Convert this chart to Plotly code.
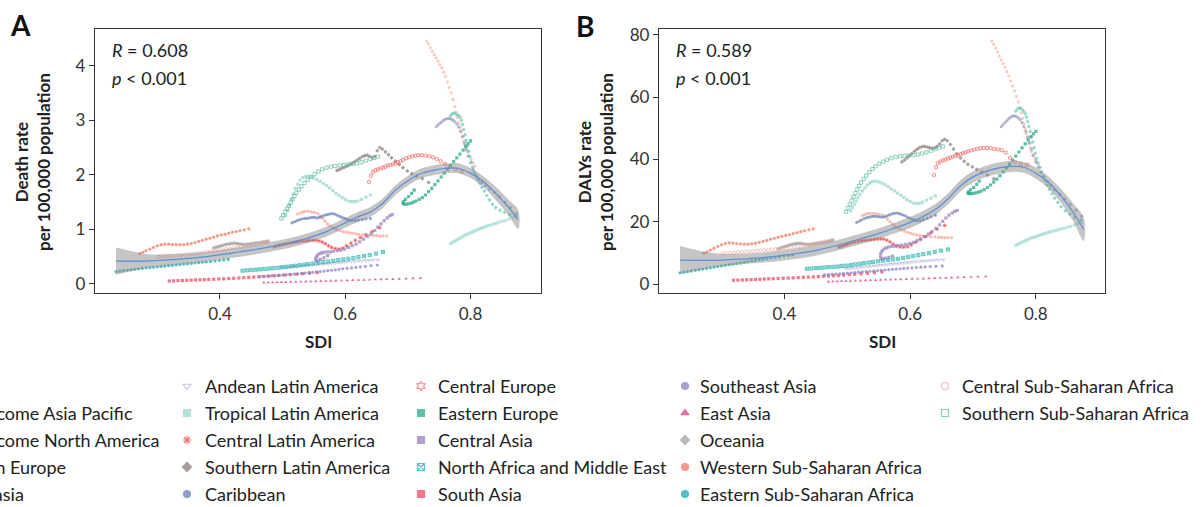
import plotly.graph_objects as go

# ---------------- data (SDI, death rate, DALYs rate per region, 1990-2019) ----------------
sdi_global = [0.524,0.528,0.532,0.536,0.541,0.546,0.551,0.556,0.560,0.564,0.568,0.572,0.576,0.581,0.586,0.591,0.596,0.601,0.606,0.611,0.616,0.621,0.627,0.633,0.639,0.645,0.650,0.655,0.660,0.666]
death_global = [1.28,1.30,1.32,1.33,1.33,1.32,1.31,1.29,1.25,1.20,1.15,1.10,1.06,1.03,1.00,0.98,0.96,0.95,0.94,0.93,0.92,0.91,0.90,0.90,0.89,0.89,0.89,0.88,0.88,0.88]
daly_global = [22.0,22.3,22.6,22.7,22.7,22.6,22.4,22.2,21.6,20.8,20.0,19.2,18.5,17.9,17.4,17.0,16.6,16.3,16.0,15.8,15.6,15.4,15.3,15.2,15.1,15.0,15.0,14.9,14.9,14.9]

sdi_hiap = [0.730,0.733,0.736,0.739,0.742,0.745,0.748,0.751,0.754,0.757,0.760,0.763,0.766,0.769,0.772,0.775,0.777,0.779,0.781,0.783,0.785,0.787,0.789,0.791,0.793,0.795,0.798,0.801,0.804,0.807]
death_hiap = [4.45,4.40,4.33,4.26,4.20,4.14,4.08,4.02,3.96,3.88,3.80,3.70,3.60,3.50,3.38,3.25,3.15,3.05,2.95,2.86,2.78,2.70,2.62,2.55,2.48,2.42,2.35,2.28,2.22,2.16]
daly_hiap = [78.0,77.0,75.8,74.5,73.2,72.0,70.8,69.6,68.2,66.8,65.2,63.6,62.0,60.3,58.5,56.6,54.9,53.2,51.5,49.8,48.2,46.7,45.2,43.8,42.5,41.3,40.2,39.2,38.3,37.5]

sdi_hina = [0.745,0.748,0.751,0.754,0.757,0.760,0.763,0.766,0.769,0.772,0.775,0.778,0.781,0.784,0.787,0.790,0.793,0.796,0.800,0.804,0.808,0.813,0.818,0.824,0.830,0.838,0.846,0.855,0.864,0.873]
death_hina = [2.88,2.91,2.94,2.97,3.00,3.02,3.03,3.03,3.02,3.00,2.97,2.93,2.88,2.80,2.70,2.58,2.46,2.34,2.22,2.10,2.00,1.92,1.86,1.80,1.74,1.68,1.60,1.50,1.40,1.29]
daly_hina = [50.5,51.2,51.9,52.5,53.1,53.6,53.9,54.0,53.8,53.4,52.8,51.8,50.5,49.0,47.2,45.2,43.2,41.2,39.3,37.5,35.9,34.4,33.0,31.6,30.2,28.8,27.3,25.6,23.7,21.8]

sdi_we = [0.768,0.771,0.774,0.777,0.780,0.783,0.785,0.787,0.789,0.791,0.793,0.795,0.797,0.799,0.801,0.803,0.806,0.809,0.812,0.815,0.818,0.822,0.826,0.830,0.835,0.840,0.847,0.854,0.862,0.872]
death_we = [3.08,3.12,3.13,3.11,3.09,3.06,3.00,2.92,2.83,2.73,2.63,2.53,2.43,2.33,2.23,2.14,2.05,1.97,1.90,1.84,1.77,1.70,1.62,1.54,1.46,1.40,1.35,1.31,1.27,1.24]
daly_we = [55.5,56.3,56.6,56.2,55.6,54.8,53.6,52.2,50.6,49.0,47.3,45.6,43.8,42.0,40.3,38.8,37.4,36.0,34.6,33.2,31.8,30.4,29.0,27.6,26.2,24.8,23.5,22.4,21.4,20.6]

sdi_aus = [0.768,0.771,0.774,0.777,0.780,0.783,0.786,0.789,0.792,0.795,0.798,0.801,0.804,0.807,0.810,0.813,0.816,0.819,0.822,0.825,0.829,0.833,0.837,0.841,0.845,0.850,0.855,0.861,0.867,0.873]
death_aus = [0.74,0.76,0.78,0.80,0.82,0.84,0.86,0.88,0.90,0.91,0.93,0.94,0.96,0.97,0.99,1.00,1.02,1.03,1.04,1.06,1.07,1.08,1.10,1.11,1.13,1.15,1.16,1.19,1.22,1.26]
daly_aus = [12.4,12.7,13.0,13.3,13.6,13.9,14.2,14.4,14.7,14.9,15.1,15.3,15.5,15.7,15.9,16.1,16.3,16.5,16.7,16.9,17.1,17.3,17.5,17.7,17.9,18.2,18.5,18.9,19.4,20.0]

sdi_andean = [0.498,0.503,0.508,0.513,0.518,0.523,0.528,0.533,0.538,0.543,0.548,0.553,0.558,0.563,0.568,0.573,0.578,0.583,0.588,0.593,0.598,0.603,0.609,0.615,0.621,0.627,0.633,0.639,0.645,0.652]
death_andean = [0.30,0.30,0.31,0.31,0.32,0.32,0.33,0.33,0.34,0.34,0.35,0.35,0.36,0.36,0.37,0.37,0.38,0.38,0.39,0.39,0.40,0.40,0.41,0.41,0.42,0.42,0.43,0.43,0.44,0.44]
daly_andean = [4.9,5.0,5.1,5.2,5.3,5.4,5.5,5.6,5.7,5.8,5.9,6.0,6.1,6.2,6.3,6.4,6.5,6.6,6.7,6.8,6.9,7.0,7.1,7.2,7.3,7.4,7.5,7.6,7.7,7.8]

sdi_tropical = [0.505,0.508,0.511,0.514,0.517,0.520,0.524,0.528,0.532,0.536,0.540,0.545,0.550,0.555,0.560,0.565,0.570,0.575,0.580,0.585,0.590,0.595,0.600,0.605,0.610,0.615,0.620,0.626,0.633,0.640]
death_tropical = [1.25,1.35,1.45,1.55,1.65,1.75,1.83,1.90,1.95,1.97,1.97,1.96,1.94,1.91,1.88,1.84,1.80,1.76,1.71,1.66,1.62,1.58,1.55,1.52,1.51,1.51,1.52,1.55,1.59,1.63]
daly_tropical = [23.5,24.5,25.5,26.6,27.7,28.8,29.9,30.9,31.8,32.5,32.9,33.0,32.8,32.4,31.9,31.3,30.6,29.9,29.2,28.5,27.8,27.1,26.5,26.0,25.8,25.9,26.3,26.9,27.6,28.3]

sdi_cla = [0.487,0.491,0.495,0.499,0.503,0.508,0.513,0.518,0.523,0.528,0.533,0.538,0.543,0.548,0.553,0.558,0.563,0.568,0.573,0.578,0.584,0.590,0.596,0.602,0.609,0.616,0.624,0.633,0.643,0.655]
death_cla = [0.68,0.70,0.71,0.72,0.73,0.74,0.75,0.76,0.77,0.78,0.79,0.79,0.80,0.80,0.80,0.79,0.77,0.74,0.70,0.67,0.65,0.64,0.66,0.70,0.75,0.80,0.85,0.90,0.96,1.03]
daly_cla = [11.8,12.1,12.4,12.7,13.0,13.3,13.5,13.7,13.9,14.0,14.1,14.2,14.3,14.4,14.5,14.4,14.1,13.5,12.8,12.2,11.9,11.8,12.0,12.6,13.4,14.3,15.3,16.4,17.6,18.8]

sdi_sla = [0.587,0.591,0.595,0.599,0.603,0.607,0.611,0.615,0.619,0.623,0.627,0.631,0.635,0.639,0.643,0.647,0.651,0.655,0.659,0.664,0.669,0.674,0.680,0.686,0.692,0.699,0.706,0.714,0.723,0.733]
death_sla = [2.08,2.10,2.12,2.14,2.16,2.19,2.21,2.24,2.27,2.30,2.33,2.35,2.36,2.34,2.31,2.34,2.44,2.50,2.47,2.42,2.37,2.31,2.25,2.19,2.13,2.07,2.02,1.98,1.93,1.86]
daly_sla = [39.2,39.8,40.5,41.2,41.9,42.6,43.3,43.8,44.1,44.2,44.0,43.8,43.6,43.7,44.2,45.0,46.0,46.5,46.0,44.8,43.3,41.8,40.5,39.4,38.4,37.6,36.8,36.0,35.0,33.8]

sdi_carib = [0.515,0.519,0.523,0.527,0.531,0.535,0.539,0.543,0.547,0.551,0.555,0.559,0.563,0.567,0.571,0.575,0.579,0.583,0.587,0.591,0.595,0.599,0.603,0.607,0.611,0.616,0.621,0.627,0.633,0.640]
death_carib = [1.12,1.14,1.16,1.18,1.19,1.20,1.20,1.21,1.22,1.22,1.21,1.22,1.24,1.26,1.27,1.28,1.29,1.28,1.26,1.24,1.22,1.20,1.18,1.17,1.16,1.16,1.17,1.18,1.19,1.20]
daly_carib = [19.8,20.2,20.6,21.0,21.3,21.5,21.7,21.8,21.7,21.6,21.5,21.6,21.9,22.2,22.5,22.7,22.8,22.6,22.3,22.0,21.6,21.2,20.8,20.5,20.3,20.4,20.7,21.1,21.6,22.1]

sdi_ce = [0.638,0.641,0.644,0.648,0.652,0.656,0.660,0.664,0.668,0.672,0.676,0.680,0.684,0.688,0.692,0.697,0.702,0.707,0.712,0.717,0.722,0.728,0.734,0.740,0.746,0.752,0.759,0.767,0.776,0.786]
death_ce = [1.87,1.98,2.05,2.08,2.10,2.12,2.13,2.15,2.17,2.18,2.19,2.21,2.23,2.25,2.27,2.30,2.32,2.34,2.35,2.36,2.36,2.35,2.34,2.32,2.29,2.25,2.20,2.15,2.10,2.06]
daly_ce = [35.0,37.5,38.8,39.3,39.7,40.0,40.3,40.6,40.9,41.1,41.4,41.7,42.0,42.3,42.6,42.9,43.2,43.4,43.6,43.7,43.7,43.6,43.4,43.2,43.0,42.2,40.5,39.2,38.5,38.3]

sdi_ee = [0.710,0.706,0.701,0.696,0.693,0.692,0.694,0.697,0.701,0.705,0.709,0.713,0.718,0.723,0.728,0.733,0.738,0.743,0.748,0.753,0.758,0.763,0.768,0.773,0.778,0.783,0.788,0.792,0.796,0.800]
death_ee = [1.72,1.66,1.60,1.55,1.51,1.48,1.46,1.46,1.47,1.48,1.50,1.52,1.55,1.58,1.63,1.69,1.75,1.82,1.89,1.96,2.03,2.10,2.17,2.24,2.31,2.38,2.45,2.52,2.57,2.62]
daly_ee = [33.0,32.0,31.0,30.2,29.6,29.2,29.0,29.0,29.1,29.3,29.5,29.8,30.3,31.0,31.8,32.7,33.7,34.8,36.0,37.2,38.5,39.8,41.1,42.4,43.7,45.0,46.2,47.3,48.2,49.0]

sdi_ca = [0.572,0.566,0.560,0.555,0.553,0.553,0.555,0.558,0.562,0.566,0.571,0.576,0.581,0.587,0.593,0.599,0.605,0.611,0.617,0.623,0.629,0.635,0.641,0.647,0.652,0.657,0.662,0.667,0.671,0.675]
death_ca = [0.52,0.48,0.45,0.42,0.44,0.48,0.52,0.55,0.57,0.58,0.59,0.59,0.60,0.61,0.62,0.64,0.67,0.70,0.73,0.77,0.82,0.87,0.92,0.98,1.04,1.10,1.16,1.21,1.25,1.27]
daly_ca = [9.0,8.6,8.3,8.1,8.6,9.6,10.5,11.2,11.6,11.9,12.1,12.2,12.3,12.5,12.7,13.0,13.4,13.9,14.5,15.2,16.0,16.9,17.9,19.0,20.1,21.2,22.1,22.8,23.3,23.6]

sdi_name = [0.436,0.443,0.450,0.457,0.464,0.471,0.478,0.485,0.492,0.499,0.506,0.513,0.520,0.527,0.534,0.541,0.549,0.557,0.565,0.573,0.581,0.589,0.597,0.605,0.613,0.621,0.630,0.639,0.649,0.660]
death_name = [0.245,0.250,0.256,0.262,0.268,0.275,0.282,0.290,0.298,0.306,0.315,0.324,0.334,0.344,0.354,0.365,0.376,0.388,0.400,0.412,0.424,0.437,0.450,0.463,0.477,0.492,0.510,0.530,0.555,0.585]
daly_name = [4.9,5.0,5.1,5.2,5.3,5.4,5.5,5.6,5.8,5.9,6.1,6.3,6.5,6.7,6.9,7.1,7.3,7.5,7.7,7.9,8.1,8.4,8.7,9.0,9.3,9.6,9.9,10.3,10.7,11.1]

sdi_sa = [0.319,0.326,0.333,0.340,0.347,0.354,0.361,0.368,0.375,0.382,0.390,0.398,0.406,0.414,0.422,0.430,0.438,0.446,0.454,0.462,0.470,0.478,0.486,0.494,0.503,0.512,0.522,0.532,0.543,0.555]
death_sa = [0.055,0.058,0.061,0.064,0.067,0.070,0.073,0.076,0.079,0.083,0.087,0.091,0.095,0.100,0.105,0.110,0.115,0.120,0.126,0.132,0.138,0.144,0.150,0.157,0.164,0.171,0.179,0.188,0.198,0.210]
daly_sa = [1.20,1.25,1.30,1.35,1.40,1.46,1.52,1.58,1.64,1.70,1.77,1.84,1.91,1.98,2.06,2.14,2.22,2.30,2.39,2.48,2.57,2.67,2.77,2.88,3.00,3.13,3.28,3.45,3.65,3.90]

sdi_sea = [0.464,0.470,0.476,0.482,0.488,0.494,0.500,0.506,0.512,0.518,0.524,0.530,0.536,0.542,0.548,0.554,0.560,0.566,0.572,0.578,0.584,0.590,0.596,0.603,0.610,0.617,0.624,0.632,0.641,0.651]
death_sea = [0.135,0.140,0.145,0.150,0.155,0.160,0.165,0.170,0.176,0.182,0.188,0.194,0.200,0.207,0.214,0.221,0.228,0.236,0.244,0.252,0.260,0.268,0.277,0.286,0.295,0.304,0.313,0.323,0.335,0.348]
daly_sea = [2.9,3.0,3.1,3.2,3.3,3.4,3.5,3.6,3.7,3.8,3.9,4.0,4.1,4.2,4.3,4.4,4.5,4.6,4.7,4.8,4.9,5.0,5.1,5.2,5.3,5.4,5.5,5.6,5.7,5.8]

sdi_ea = [0.470,0.477,0.484,0.491,0.498,0.505,0.513,0.521,0.529,0.537,0.545,0.553,0.561,0.569,0.577,0.585,0.594,0.603,0.612,0.621,0.630,0.639,0.648,0.657,0.666,0.676,0.686,0.697,0.708,0.720]
death_ea = [0.025,0.027,0.029,0.031,0.033,0.035,0.037,0.039,0.041,0.043,0.045,0.048,0.051,0.054,0.057,0.060,0.063,0.066,0.069,0.072,0.075,0.078,0.081,0.084,0.087,0.090,0.094,0.098,0.103,0.108]
daly_ea = [0.75,0.80,0.85,0.90,0.95,1.00,1.05,1.10,1.15,1.20,1.25,1.30,1.35,1.40,1.45,1.50,1.56,1.62,1.68,1.74,1.80,1.86,1.92,1.98,2.04,2.10,2.17,2.24,2.31,2.40]

sdi_oce = [0.390,0.393,0.396,0.399,0.402,0.405,0.408,0.411,0.414,0.417,0.420,0.423,0.426,0.429,0.432,0.435,0.438,0.441,0.444,0.447,0.450,0.453,0.456,0.459,0.462,0.465,0.468,0.471,0.474,0.477]
death_oce = [0.66,0.67,0.68,0.69,0.70,0.71,0.72,0.73,0.73,0.74,0.74,0.75,0.74,0.74,0.73,0.73,0.72,0.72,0.73,0.73,0.74,0.74,0.75,0.75,0.76,0.76,0.77,0.77,0.78,0.78]
daly_oce = [11.3,11.5,11.7,11.9,12.1,12.3,12.5,12.7,12.8,12.9,13.0,13.1,13.0,12.9,12.8,12.8,12.7,12.7,12.8,12.9,13.0,13.1,13.2,13.3,13.4,13.5,13.6,13.7,13.9,14.1]

sdi_wssa = [0.272,0.277,0.282,0.288,0.294,0.300,0.306,0.312,0.318,0.324,0.330,0.336,0.342,0.348,0.354,0.360,0.366,0.372,0.378,0.384,0.390,0.396,0.402,0.408,0.414,0.420,0.426,0.432,0.439,0.446]
death_wssa = [0.56,0.58,0.61,0.64,0.67,0.70,0.72,0.73,0.73,0.72,0.72,0.72,0.72,0.73,0.74,0.76,0.78,0.80,0.82,0.84,0.86,0.88,0.90,0.91,0.93,0.95,0.96,0.98,0.99,1.01]
daly_wssa = [9.9,10.3,10.9,11.5,12.1,12.6,13.0,13.2,13.2,13.0,12.9,12.8,12.8,12.9,13.1,13.4,13.7,14.0,14.4,14.7,15.0,15.3,15.6,15.9,16.2,16.5,16.8,17.1,17.4,17.7]

sdi_essa = [0.234,0.240,0.246,0.252,0.258,0.264,0.270,0.276,0.282,0.288,0.294,0.300,0.306,0.312,0.318,0.324,0.330,0.336,0.342,0.348,0.354,0.360,0.366,0.372,0.378,0.385,0.392,0.399,0.406,0.413]
death_essa = [0.225,0.235,0.245,0.254,0.262,0.270,0.278,0.286,0.293,0.300,0.307,0.314,0.321,0.328,0.335,0.342,0.349,0.356,0.363,0.370,0.377,0.384,0.391,0.398,0.405,0.413,0.421,0.430,0.440,0.450]
daly_essa = [3.6,3.8,4.0,4.2,4.4,4.6,4.8,5.0,5.2,5.4,5.6,5.8,6.0,6.2,6.4,6.6,6.8,7.0,7.2,7.4,7.6,7.8,8.0,8.2,8.4,8.6,8.8,9.0,9.2,9.4]

sdi_cssa = [0.302,0.308,0.314,0.320,0.326,0.332,0.338,0.344,0.350,0.356,0.362,0.368,0.374,0.380,0.386,0.392,0.398,0.404,0.410,0.416,0.422,0.428,0.434,0.440,0.446,0.452,0.458,0.464,0.470,0.476]
death_cssa = [0.50,0.51,0.51,0.52,0.52,0.53,0.53,0.54,0.54,0.55,0.56,0.57,0.58,0.59,0.60,0.61,0.62,0.63,0.64,0.65,0.66,0.67,0.68,0.69,0.70,0.71,0.72,0.74,0.76,0.78]
daly_cssa = [9.8,9.9,10.0,10.1,10.2,10.3,10.4,10.5,10.6,10.7,10.8,10.9,11.0,11.1,11.2,11.3,11.4,11.5,11.7,11.9,12.1,12.3,12.5,12.7,12.9,13.1,13.3,13.6,13.9,14.2]

sdi_sssa = [0.498,0.501,0.504,0.507,0.510,0.513,0.516,0.519,0.522,0.526,0.530,0.535,0.540,0.545,0.551,0.557,0.563,0.570,0.577,0.584,0.591,0.598,0.605,0.612,0.619,0.626,0.633,0.640,0.646,0.652]
death_sssa = [1.20,1.26,1.32,1.38,1.43,1.49,1.55,1.61,1.67,1.73,1.79,1.85,1.91,1.96,2.01,2.06,2.10,2.13,2.15,2.16,2.17,2.18,2.19,2.20,2.21,2.23,2.26,2.29,2.31,2.33]
daly_sssa = [23.2,24.4,25.6,26.8,28.0,29.2,30.4,31.5,32.6,33.7,34.8,35.9,36.9,37.8,38.6,39.3,39.9,40.4,40.8,41.0,41.2,41.3,41.4,41.6,41.9,42.3,42.8,43.3,43.8,44.2]

# smoothed fit (loess) with confidence band
smooth_x = [0.234,0.26,0.28,0.30,0.33,0.36,0.39,0.42,0.45,0.48,0.51,0.54,0.57,0.60,0.62,0.64,0.66,0.68,0.70,0.72,0.74,0.76,0.78,0.80,0.82,0.84,0.86,0.876]
death_fit = [0.42,0.42,0.42,0.43,0.45,0.48,0.52,0.57,0.62,0.68,0.75,0.84,0.96,1.12,1.23,1.32,1.48,1.72,1.89,2.02,2.08,2.12,2.12,2.03,1.88,1.66,1.41,1.18]
death_lo = [0.17,0.24,0.29,0.32,0.35,0.39,0.43,0.48,0.53,0.59,0.66,0.75,0.87,1.03,1.14,1.23,1.39,1.63,1.80,1.93,1.99,2.03,2.03,1.94,1.78,1.54,1.27,1.01]
death_hi = [0.67,0.60,0.55,0.54,0.55,0.57,0.61,0.66,0.71,0.77,0.84,0.93,1.05,1.21,1.32,1.41,1.57,1.81,1.98,2.11,2.17,2.21,2.21,2.12,1.98,1.78,1.55,1.35]
daly_fit = [7.7,7.6,7.6,7.7,8.0,8.4,9.0,9.8,10.8,12.2,13.9,15.6,17.6,19.8,21.6,23.9,27.3,31.5,34.4,36.1,37.2,37.8,37.5,35.6,32.6,28.3,22.8,17.6]
daly_lo = [3.2,4.3,5.1,5.7,6.3,6.8,7.3,8.1,9.1,10.5,12.2,13.9,15.9,18.0,19.8,22.1,25.5,29.7,32.6,34.3,35.4,36.0,35.7,33.8,30.7,26.1,19.9,13.8]
daly_hi = [12.2,10.9,10.1,9.7,9.7,10.0,10.7,11.5,12.5,13.9,15.6,17.3,19.3,21.6,23.4,25.7,29.1,33.3,36.2,37.9,39.0,39.6,39.3,37.4,34.5,30.5,25.7,21.4]

r_text_a = "<i>R</i> = 0.608"
p_text_a = "<i>p</i> &lt; 0.001"
r_text_b = "<i>R</i> = 0.589"
p_text_b = "<i>p</i> &lt; 0.001"
x_ticks = [0.4, 0.6, 0.8]
y_ticks_a = [0, 1, 2, 3, 4]
y_ticks_b = [0, 20, 40, 60, 80]

# name, sdi, death, daly, colour, symbol
regions = [
    ("Global", sdi_global, death_global, daly_global, "#F5A592", "circle"),
    ("High-income Asia Pacific", sdi_hiap, death_hiap, daly_hiap, "#F8BCAC", "circle"),
    ("High-income North America", sdi_hina, death_hina, daly_hina, "#9A9EC6", "circle"),
    ("Western Europe", sdi_we, death_we, daly_we, "#6FCABA", "diamond"),
    ("Australasia", sdi_aus, death_aus, daly_aus, "#A7DDD5", "square"),
    ("Andean Latin America", sdi_andean, death_andean, daly_andean, "#AEB3D6", "triangle-down-open"),
    ("Tropical Latin America", sdi_tropical, death_tropical, daly_tropical, "#9BD7CE", "square-x"),
    ("Central Latin America", sdi_cla, death_cla, daly_cla, "#F04848", "asterisk-open"),
    ("Southern Latin America", sdi_sla, death_sla, daly_sla, "#8E7E79", "diamond-cross"),
    ("Caribbean", sdi_carib, death_carib, daly_carib, "#6B80B8", "circle-cross"),
    ("Central Europe", sdi_ce, death_ce, daly_ce, "#F26D6D", "hexagram-open"),
    ("Eastern Europe", sdi_ee, death_ee, daly_ee, "#2BAA8E", "square-cross"),
    ("Central Asia", sdi_ca, death_ca, daly_ca, "#9C80BC", "square-x"),
    ("North Africa and Middle East", sdi_name, death_name, daly_name, "#1FB2AC", "square-x-open"),
    ("South Asia", sdi_sa, death_sa, daly_sa, "#EF4A64", "square"),
    ("Southeast Asia", sdi_sea, death_sea, daly_sea, "#8985C6", "circle"),
    ("East Asia", sdi_ea, death_ea, daly_ea, "#D63F8B", "triangle-up"),
    ("Oceania", sdi_oce, death_oce, daly_oce, "#A3A3A3", "diamond"),
    ("Western Sub-Saharan Africa", sdi_wssa, death_wssa, daly_wssa, "#F07860", "circle"),
    ("Eastern Sub-Saharan Africa", sdi_essa, death_essa, daly_essa, "#17ADB0", "circle"),
    ("Central Sub-Saharan Africa", sdi_cssa, death_cssa, daly_cssa, "#F4A9A0", "circle-open"),
    ("Southern Sub-Saharan Africa", sdi_sssa, death_sssa, daly_sssa, "#5DB8A0", "square-open"),
]

W, H = 1202, 507
FONT = "Lato"

fig = go.Figure()

for name, sdi, d, dl, col, sym in regions:
    is_open = sym.endswith("-open")
    mk = dict(symbol=sym, size=3.2, color=col, opacity=0.75,
              line=dict(width=0.9 if is_open else 0, color=col))
    fig.add_trace(go.Scatter(x=sdi, y=d, mode="markers", marker=mk, name=name,
                             showlegend=False, xaxis="x", yaxis="y", hoverinfo="skip"))
    fig.add_trace(go.Scatter(x=sdi, y=dl, mode="markers", marker=mk, name=name,
                             showlegend=False, xaxis="x2", yaxis="y2", hoverinfo="skip"))

band_col = "rgba(140,140,140,0.5)"
line_col = "#5B8FD6"
for ax, ay, fit, lo, hi in [("x", "y", death_fit, death_lo, death_hi),
                            ("x2", "y2", daly_fit, daly_lo, daly_hi)]:
    fig.add_trace(go.Scatter(x=smooth_x + smooth_x[::-1], y=hi + lo[::-1], fill="toself",
                             fillcolor=band_col, line=dict(width=0, shape="spline"), mode="lines",
                             showlegend=False, xaxis=ax, yaxis=ay, hoverinfo="skip"))
    fig.add_trace(go.Scatter(x=smooth_x, y=fit, mode="lines", line=dict(color=line_col, width=1.2, shape="spline"),
                             showlegend=False, xaxis=ax, yaxis=ay, hoverinfo="skip"))

# ---------------- manual legend (column layout) ----------------
legend_rows = [386, 413, 440, 467, 494]
legend_cols = [(-78, -64), (187, 203), (421, 436), (685, 698), (945, 960)]
annotations = []
lx, ly, lsym, lcol = [], [], [], []
for i, (name, sdi, d, dl, col, sym) in enumerate(regions):
    c, r = divmod(i, 5)
    mx, tx = legend_cols[c]
    yy = legend_rows[r]
    lx.append(mx); ly.append(yy); lsym.append(sym); lcol.append(col)
    annotations.append(dict(x=tx / W, y=1 - yy / H, xref="paper", yref="paper", text=name,
                            showarrow=False, xanchor="left", yanchor="middle",
                            font=dict(family=FONT, size=18, color="#222")))
fig.add_trace(go.Scatter(x=lx, y=ly, mode="markers", xaxis="x3", yaxis="y3", showlegend=False,
                         marker=dict(symbol=lsym, size=7, color=lcol, opacity=0.75,
                                     line=dict(width=1.2, color=lcol)), hoverinfo="skip"))

def txt(x, y, s, size=18, **kw):
    d = dict(x=x / W, y=1 - y / H, xref="paper", yref="paper", text=s, showarrow=False,
             font=dict(family=FONT, size=size, color=kw.pop("color", "#222")))
    d.update(kw)
    return d

annotations += [
    txt(20, 25, "<b>A</b>", size=28, xanchor="center", yanchor="middle", color="#111"),
    txt(585, 26, "<b>B</b>", size=28, xanchor="center", yanchor="middle", color="#111"),
    txt(110, 50, r_text_a, xanchor="left", yanchor="middle"),
    txt(110, 78, p_text_a, xanchor="left", yanchor="middle"),
    txt(674, 50, r_text_b, xanchor="left", yanchor="middle"),
    txt(674, 78, p_text_b, xanchor="left", yanchor="middle"),
    txt(318, 341, "<b>SDI</b>", size=17, xanchor="center", yanchor="middle"),
    txt(882, 341, "<b>SDI</b>", size=17, xanchor="center", yanchor="middle"),
    txt(32, 162, "<b>Death rate<br>per 100,000 population</b>", size=17, textangle=-90,
        xanchor="center", yanchor="middle"),
    txt(595, 162, "<b>DALYs rate<br>per 100,000 population</b>", size=17, textangle=-90,
        xanchor="center", yanchor="middle"),
]

axis_common = dict(showline=True, mirror=True, linecolor="#333", linewidth=1.3, ticks="outside",
                   ticklen=5, tickwidth=1.2, tickcolor="#333", showgrid=False, zeroline=False,
                   tickfont=dict(family=FONT, size=17, color="#333"))
y0, y1 = 1 - 293 / H, 1 - 29 / H

fig.update_layout(
    width=W, height=H,
    margin=dict(l=0, r=0, t=0, b=0, autoexpand=False),
    paper_bgcolor="white", plot_bgcolor="rgba(0,0,0,0)",
    font=dict(family=FONT, size=17, color="#222"),
    showlegend=False,
    xaxis=dict(domain=[95 / W, 541 / W], range=[0.2005, 0.9124], tickvals=x_ticks,
               ticktext=["0.4", "0.6", "0.8"], anchor="y", **axis_common),
    yaxis=dict(domain=[y0, y1], range=[-0.165, 4.67], tickvals=y_ticks_a, anchor="x", **axis_common),
    xaxis2=dict(domain=[659 / W, 1105 / W], range=[0.2005, 0.910], tickvals=x_ticks,
                ticktext=["0.4", "0.6", "0.8"], anchor="y2", **axis_common),
    yaxis2=dict(domain=[y0, y1], range=[-2.89, 81.9], tickvals=y_ticks_b, anchor="x2", **axis_common),
    xaxis3=dict(domain=[0, 1], range=[0, W], visible=False, anchor="y3", fixedrange=True),
    yaxis3=dict(domain=[0, 1], range=[H, 0], visible=False, anchor="x3", fixedrange=True),
    annotations=annotations,
)

fig.write_html("out.html")
